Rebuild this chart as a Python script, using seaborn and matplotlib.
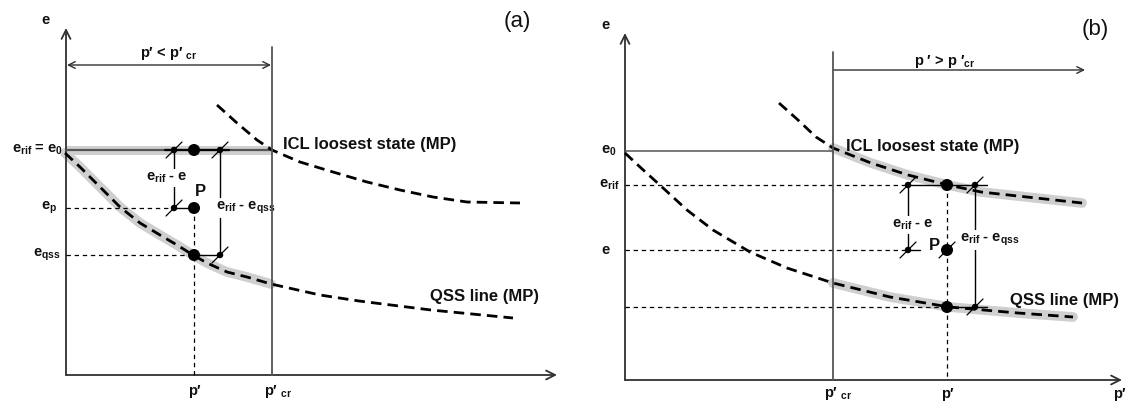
import numpy as np
import pandas as pd
import matplotlib
matplotlib.use("Agg")
import matplotlib.pyplot as plt
import seaborn as sns

sns.set_theme(style="white")
plt.rcParams['font.family'] = ['Liberation Sans', 'DejaVu Sans']
plt.rcParams['mathtext.fontset'] = 'custom'
plt.rcParams['mathtext.rm'] = 'Liberation Sans:bold'
plt.rcParams['mathtext.bf'] = 'Liberation Sans:bold'
plt.rcParams['mathtext.it'] = 'Liberation Sans:bold'

# ---------------- data (schematic coordinates) ----------------
# panel (a)
icl_a_x = [217, 237, 257, 272, 300, 333, 367, 400, 433, 467, 520]
icl_a_y = [105, 123, 140, 150, 162, 172, 182, 190, 197, 202, 203]
qss_a_x = [65, 80, 100, 120, 140, 160, 177, 193, 207, 227, 247, 271, 320, 359, 431, 513]
qss_a_y = [153, 167, 187, 207, 223, 235, 245, 255, 263, 272, 277, 284, 295, 301, 310, 318]
qss_a_band_n = 12          # gray band up to p'cr
e0_a, ep_a, eqss_a = 150, 208, 255
p_a, pcr_a = 194, 272
left_a, right_a = 174, 220
big_a_x = [p_a, p_a, p_a]
big_a_y = [e0_a, ep_a, eqss_a]
small_a_x = [left_a, right_a, left_a, right_a]
small_a_y = [e0_a, e0_a, ep_a, eqss_a]

# panel (b)
icl_b_x = [779, 798, 816, 833, 871, 908, 948, 981, 1036, 1082]
icl_b_y = [103, 120, 137, 148, 163, 175, 185, 192, 198, 203]
icl_b_band_start = 3
qss_b_x = [625, 640, 662, 687, 713, 750, 787, 833, 890, 949, 1018, 1073]
qss_b_y = [153, 167, 187, 210, 230, 252, 268, 283, 297, 307, 313, 317]
qss_b_band_start = 7
e0_b, erif_b, e_b, eqss_b = 151, 185, 250, 307
p_b, pcr_b = 947, 833
left_b, right_b = 908, 975
big_b_x = [p_b, p_b, p_b]
big_b_y = [erif_b, e_b, eqss_b]
small_b_x = [left_b, right_b, left_b, right_b]
small_b_y = [erif_b, erif_b, e_b, eqss_b]
slash_b_x = small_b_x + [p_b]
slash_b_y = small_b_y + [e_b]

# axes geometry
ax_a = dict(x0=66, y0=375, xtip=557, ytip=28)
ax_b = dict(x0=625, y0=380, xtip=1122, ytip=33)

# ---------------- figure ----------------
W, H = 1131, 403
fig = plt.figure(figsize=(W / 100, H / 100), dpi=100)
ax = fig.add_axes([0, 0, 1, 1])
ax.set_xlim(0, W)
ax.set_ylim(H, 0)
ax.axis('off')

AXC = '#303030'
GRAYLINE = '#555555'
BAND = '#cfcfcf'
DASH = (0, (3.8, 2.2))
THIN = (0, (3.5, 3))


def curve(x, y, **kw):
    sns.lineplot(x=x, y=y, sort=False, estimator=None, ax=ax, legend=False, **kw)


def arrow(start, tip, style='->', color=AXC, lw=1.3, ms=16):
    ax.annotate('', xy=tip, xytext=start,
                arrowprops=dict(arrowstyle=style, color=color, lw=lw,
                                mutation_scale=ms, shrinkA=0, shrinkB=0))


def slashes(xs, ys, d=8):
    for x, y in zip(xs, ys):
        ax.plot([x - d, x + d], [y + d, y - d], color='black', lw=0.9, zorder=7)


lab = dict(fontsize=10.5, fontweight='bold', color='#111111')
big = dict(fontsize=12, fontweight='bold', color='#111111')
box = dict(facecolor='white', edgecolor='none', pad=1.0)

# ===== panel (a) =====
arrow((ax_a['x0'], ax_a['y0']), (ax_a['x0'], ax_a['ytip']))
arrow((ax_a['x0'], ax_a['y0']), (ax_a['xtip'], ax_a['y0']))
ax.plot([pcr_a, pcr_a], [47, ax_a['y0']], color=GRAYLINE, lw=1.3, zorder=6)
arrow((ax_a['x0'] + 1, 65), (pcr_a - 1, 65), style='<->', lw=1.0, ms=12)

# e0 band + line
ax.plot([ax_a['x0'], pcr_a], [e0_a, e0_a], color=BAND, lw=6.5, solid_capstyle='butt', zorder=2)
ax.plot([ax_a['x0'], pcr_a], [e0_a, e0_a], color=GRAYLINE, lw=1.6, zorder=3)
ax.plot([left_a - 9, right_a + 9], [e0_a, e0_a], color='black', lw=1.6, zorder=4)

# QSS band and curves
curve(qss_a_x[:qss_a_band_n], qss_a_y[:qss_a_band_n], color=BAND, lw=7, zorder=2)
curve(qss_a_x, qss_a_y, color='black', lw=2.0, linestyle=DASH, zorder=4)
curve(icl_a_x, icl_a_y, color='black', lw=2.0, linestyle=DASH, zorder=4)

# reference dashed lines
ax.plot([ax_a['x0'], left_a], [ep_a, ep_a], color='black', lw=0.9, ls=THIN, zorder=3)
ax.plot([ax_a['x0'], p_a], [eqss_a, eqss_a], color='black', lw=0.9, ls=THIN, zorder=3)
ax.plot([p_a, p_a], [ep_a, ax_a['y0']], color='black', lw=0.9, ls=THIN, zorder=3)

# connectors
ax.plot([left_a, p_a], [ep_a, ep_a], color='black', lw=1.0, zorder=4)
ax.plot([p_a, right_a], [eqss_a, eqss_a], color='black', lw=1.0, zorder=4)
ax.plot([left_a, left_a], [e0_a, ep_a], color='black', lw=1.0, zorder=4)
ax.plot([right_a, right_a], [e0_a, eqss_a], color='black', lw=1.0, zorder=4)

sns.scatterplot(x=big_a_x, y=big_a_y, s=75, color='black', edgecolor='none', ax=ax, zorder=8, legend=False)
sns.scatterplot(x=small_a_x, y=small_a_y, s=22, color='black', edgecolor='none', ax=ax, zorder=8, legend=False)
slashes(small_a_x, small_a_y)

ax.text(46, 20, 'e', ha='center', va='center', **lab)
ax.text(517, 22, '(a)', ha='center', va='center', fontsize=16, color='#111111')
ax.text(169, 54, r"p′ < p′ $_{\mathbf{cr}}$", ha='center', va='center', **lab)
ax.text(63, e0_a, r"$\mathbf{e_{rif}}$ = $\mathbf{e_{0}}$", ha='right', va='center', **lab)
ax.text(57, ep_a, r"$\mathbf{e_{p}}$", ha='right', va='center', **lab)
ax.text(61, eqss_a, r"$\mathbf{e_{qss}}$", ha='right', va='center', **lab)
ax.text(283, 145, 'ICL loosest state (MP)', ha='left', va='center', **big)
ax.text(430, 296, 'QSS line (MP)', ha='left', va='center', **big)
ax.text(167, 178, r"$\mathbf{e_{rif}}$ - e", ha='center', va='center', bbox=box, zorder=5, **lab)
ax.text(200, 192, 'P', ha='center', va='center', fontsize=12, fontweight='bold', color='#111111', zorder=5)
ax.text(216, 208, r"$\mathbf{e_{rif}}$ - $\mathbf{e_{qss}}$", ha='left', va='center', bbox=box, zorder=5, **lab)
ax.text(p_a, 391, 'p′', ha='center', va='center', **lab)
ax.text(278, 391, r"p′ $_{\mathbf{cr}}$", ha='center', va='center', **lab)

# ===== panel (b) =====
arrow((ax_b['x0'], ax_b['y0']), (ax_b['x0'], ax_b['ytip']))
arrow((ax_b['x0'], ax_b['y0']), (ax_b['xtip'], ax_b['y0']))
ax.plot([pcr_b, pcr_b], [52, ax_b['y0']], color=GRAYLINE, lw=1.3, zorder=6)
arrow((pcr_b, 70), (1085, 70), style='->', lw=1.0, ms=12)
ax.plot([ax_b['x0'], pcr_b], [e0_b, e0_b], color=GRAYLINE, lw=1.1, zorder=3)

curve(icl_b_x[icl_b_band_start:], icl_b_y[icl_b_band_start:], color=BAND, lw=7, zorder=2)
curve(qss_b_x[qss_b_band_start:], qss_b_y[qss_b_band_start:], color=BAND, lw=7, zorder=2)
curve(icl_b_x, icl_b_y, color='black', lw=2.0, linestyle=DASH, zorder=4)
curve(qss_b_x, qss_b_y, color='black', lw=2.0, linestyle=DASH, zorder=4)

ax.plot([ax_b['x0'], left_b], [erif_b, erif_b], color='black', lw=0.9, ls=THIN, zorder=3)
ax.plot([ax_b['x0'], left_b], [e_b, e_b], color='black', lw=0.9, ls=THIN, zorder=3)
ax.plot([ax_b['x0'], p_b], [eqss_b, eqss_b], color='black', lw=0.9, ls=THIN, zorder=3)
ax.plot([p_b, p_b], [erif_b, ax_b['y0']], color='black', lw=0.9, ls=THIN, zorder=3)

ax.plot([left_b, right_b + 12], [erif_b, erif_b], color='black', lw=1.0, zorder=4)
ax.plot([left_b, left_b + 12], [e_b, e_b], color='black', lw=1.0, zorder=4)
ax.plot([p_b, right_b + 12], [eqss_b, eqss_b], color='black', lw=1.0, zorder=4)
ax.plot([left_b, left_b], [erif_b, e_b], color='black', lw=1.0, zorder=4)
ax.plot([right_b, right_b], [erif_b, eqss_b], color='black', lw=1.0, zorder=4)

sns.scatterplot(x=big_b_x, y=big_b_y, s=75, color='black', edgecolor='none', ax=ax, zorder=8, legend=False)
sns.scatterplot(x=small_b_x, y=small_b_y, s=22, color='black', edgecolor='none', ax=ax, zorder=8, legend=False)
slashes(slash_b_x, slash_b_y)

ax.text(606, 25, 'e', ha='center', va='center', **lab)
ax.text(1095, 30, '(b)', ha='center', va='center', fontsize=16, color='#111111')
ax.text(945, 62, r"p ′ > p ′$_{\mathbf{cr}}$", ha='center', va='center', **lab)
ax.text(617, e0_b, r"$\mathbf{e_{0}}$", ha='right', va='center', **lab)
ax.text(619, erif_b, r"$\mathbf{e_{rif}}$", ha='right', va='center', **lab)
ax.text(606, e_b, 'e', ha='center', va='center', **lab)
ax.text(846, 146, 'ICL loosest state (MP)', ha='left', va='center', **big)
ax.text(1010, 300, 'QSS line (MP)', ha='left', va='center', **big)
ax.text(913, 225, r"$\mathbf{e_{rif}}$ - e", ha='center', va='center', bbox=box, zorder=5, **lab)
ax.text(934, 246, 'P', ha='center', va='center', fontsize=12, fontweight='bold', color='#111111', zorder=5)
ax.text(960, 240, r"$\mathbf{e_{rif}}$ - $\mathbf{e_{qss}}$", ha='left', va='center', bbox=box, zorder=5, **lab)
ax.text(838, 394, r"p′ $_{\mathbf{cr}}$", ha='center', va='center', **lab)
ax.text(p_b, 394, 'p′', ha='center', va='center', **lab)
ax.text(1119, 394, 'p′', ha='center', va='center', **lab)

fig.savefig('out.png', dpi=100)
